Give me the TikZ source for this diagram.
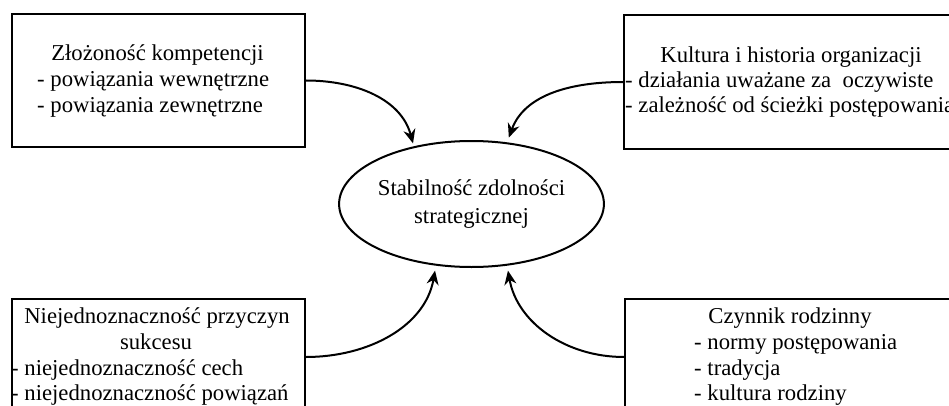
\documentclass[tikz,border=0pt]{standalone}
\usepackage{fontspec}
\setmainfont{Liberation Serif}
\usetikzlibrary{shapes.geometric,arrows.meta}

\begin{document}
\begin{tikzpicture}[x=1pt,y=1pt,
  frame/.style={draw, line width=2pt, inner sep=0pt},
  txt/.style={font=\fontsize{22.7}{26}\selectfont, inner sep=0pt},
  link/.style={line width=2pt, -{Stealth[length=14pt,width=12pt]}}]
\useasboundingbox (0,0) rectangle (949,405);
\clip (0,0) rectangle (949,405);

% ramki
\node[frame, minimum width=293pt, minimum height=133pt] (kompet) at (158.5,324.5) {};
\node[frame, minimum width=336pt, minimum height=134pt] (kultura) at (792,323) {};
\node[frame, minimum width=293pt, minimum height=116pt] (przycz) at (158.5,48) {};
\node[frame, minimum width=335pt, minimum height=116pt] (rodzina) at (792.5,48) {};

% elipsa
\node[frame, txt, ellipse, minimum width=245pt, minimum height=126pt, align=center] (stab) at (471.5,201) {Stabilność zdolności\\[2pt] strategicznej};

% teksty
\node[txt, anchor=base] (kompet0) at (157.5,344) {Złożoność kompetencji};
\node[txt, anchor=base west] (kompet1) at (37,318) {- powiązania wewnętrzne};
\node[txt, anchor=base west] (kompet2) at (37,292) {- powiązania zewnętrzne};

\node[txt, anchor=base] (kult0) at (791,342) {Kultura i historia organizacji};
\node[txt, anchor=base west] (kult1) at (625,317) {- działania uważane za\ \ oczywiste};
\node[txt, anchor=base west] (kult2) at (625,292) {- zależność od ścieżki postępowania};

\node[txt, anchor=base] (przycz0) at (157,82) {Niejednoznaczność przyczyn};
\node[txt, anchor=base] (przycz1) at (156,56) {sukcesu};
\node[txt, anchor=base west] (przycz2) at (11,30) {- niejednoznaczność cech};
\node[txt, anchor=base west] (przycz3) at (11,5) {- niejednoznaczność powiązań};

\node[txt, anchor=base] (rodz0) at (790,82) {Czynnik rodzinny};
\node[txt, anchor=base west] (rodz1) at (694,56) {- normy postępowania};
\node[txt, anchor=base west] (rodz2) at (694,30) {- tradycja};
\node[txt, anchor=base west] (rodz3) at (694,5) {- kultura rodziny};

% strzalki
\draw[link, shorten >=3pt] (kompet.east) to[out=0,in=105] (stab.135);
\draw[link, shorten >=5pt] (kultura.west) to[out=180,in=70] (stab.60);
\draw[link, shorten >=5pt] (przycz.east) to[out=0,in=260] (stab.240);
\draw[link, shorten >=5pt] (rodzina.west) to[out=180,in=280] (stab.300);
\end{tikzpicture}
\end{document}
